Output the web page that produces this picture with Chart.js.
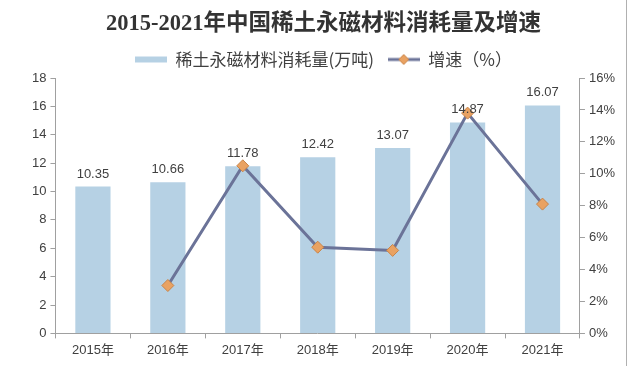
<!DOCTYPE html>
<html>
<head>
<meta charset="utf-8">
<script src="https://cdn.jsdelivr.net/npm/chart.js@4"></script>
<style>
  html, body { margin: 0; padding: 0; background: #fff; }
  #wrap { width: 628px; height: 366px; position: relative; }
</style>
</head>
<body>
<div id="wrap"><canvas id="myChart" width="628" height="366"></canvas></div>
<script>
const years = ['2015年', '2016年', '2017年', '2018年', '2019年', '2020年', '2021年'];
const consumption = [10.35, 10.66, 11.78, 12.42, 13.07, 14.87, 16.07];
const growth = [null, 3.0, 10.5, 5.4, 5.2, 13.8, 8.1];
const leftTicks = [0, 2, 4, 6, 8, 10, 12, 14, 16, 18];
const rightTicks = [0, 2, 4, 6, 8, 10, 12, 14, 16];

const barColor = '#b6d1e4';
const lineColor = '#6b7398';
const markerColor = '#e9a262';
const tickFont = { family: 'Liberation Sans, Noto Sans CJK SC', size: 13 };

// legend swatches
const barSwatch = document.createElement('canvas');
barSwatch.width = 32; barSwatch.height = 8;
let c = barSwatch.getContext('2d');
c.fillStyle = barColor; c.fillRect(0, 1, 32, 6);

const lineSwatch = document.createElement('canvas');
lineSwatch.width = 32; lineSwatch.height = 12;
c = lineSwatch.getContext('2d');
c.strokeStyle = lineColor; c.lineWidth = 3;
c.beginPath(); c.moveTo(0, 6); c.lineTo(32, 6); c.stroke();
c.fillStyle = markerColor; c.strokeStyle = '#c98448'; c.lineWidth = 1;
c.beginPath(); c.moveTo(16, 1); c.lineTo(21, 6); c.lineTo(16, 11); c.lineTo(11, 6); c.closePath();
c.fill(); c.stroke();

const barLabels = {
  id: 'barLabels',
  afterDatasetsDraw(chart) {
    const ctx = chart.ctx;
    const meta = chart.getDatasetMeta(1);
    ctx.save();
    ctx.font = '13px Liberation Sans, Arial';
    ctx.fillStyle = '#404040';
    ctx.textAlign = 'center';
    ctx.textBaseline = 'bottom';
    meta.data.forEach((bar, i) => {
      ctx.fillText(consumption[i].toFixed(2), bar.x, bar.y - 6);
    });
    ctx.restore();
  }
};

const frame = {
  id: 'frame',
  afterDraw(chart) {
    const ctx = chart.ctx;
    ctx.save();
    ctx.strokeStyle = '#b0b0b0';
    ctx.lineWidth = 1;
    ctx.beginPath(); ctx.moveTo(626.5, 0); ctx.lineTo(626.5, 366); ctx.stroke();
    ctx.restore();
  }
};

const ctx = document.getElementById('myChart').getContext('2d');
const myChart = new Chart(ctx, {
  data: {
    labels: years,
    datasets: [
      {
        type: 'line',
        label: '增速（%）',
        data: growth,
        yAxisID: 'y1',
        borderColor: lineColor,
        borderWidth: 3,
        pointStyle: 'rectRot',
        pointRadius: 6,
        pointHoverRadius: 6,
        pointBackgroundColor: markerColor,
        pointBorderColor: '#c98448',
        pointBorderWidth: 1,
        tension: 0,
        order: 0,
      },
      {
        type: 'bar',
        label: '稀土永磁材料消耗量(万吨)',
        data: consumption,
        yAxisID: 'y',
        backgroundColor: barColor,
        barPercentage: 0.47,
        categoryPercentage: 1,
        order: 1,
      },
    ],
  },
  options: {
    responsive: false,
    animation: false,
    layout: { padding: { left: 28, right: 9, top: 11, bottom: 4 } },
    plugins: {
      title: {
        display: true,
        text: '2015-2021年中国稀土永磁材料消耗量及增速',
        color: '#333333',
        font: { family: 'Liberation Serif, Noto Sans CJK SC', size: 22.5, weight: 'bold' },
        padding: { top: 0, bottom: 7 },
      },
      legend: {
        labels: {
          color: '#404040',
          font: { family: 'Noto Sans CJK SC', size: 17 },
          usePointStyle: true,
          pointStyleWidth: 32,
          boxHeight: 12,
          padding: 6,
          generateLabels(chart) {
            return [
              { text: '稀土永磁材料消耗量(万吨)  ', pointStyle: barSwatch, datasetIndex: 1, fontColor: '#404040' },
              { text: '增速（%）', pointStyle: lineSwatch, datasetIndex: 0, fontColor: '#404040' },
            ];
          },
        },
      },
      tooltip: { enabled: false },
    },
    scales: {
      x: {
        grid: { display: true, drawOnChartArea: false, offset: true, tickLength: 5, color: '#a0a0a0' },
        border: { color: '#a0a0a0' },
        ticks: { color: '#404040', font: tickFont, padding: 4 },
      },
      y: {
        position: 'left',
        min: 0, max: 18,
        afterBuildTicks(axis) { axis.ticks = leftTicks.map(v => ({ value: v })); },
        grid: { drawOnChartArea: false, tickLength: 5, color: '#a0a0a0' },
        border: { color: '#a0a0a0' },
        ticks: { color: '#404040', font: tickFont, padding: 4 },
      },
      y1: {
        position: 'right',
        min: 0, max: 16,
        afterBuildTicks(axis) { axis.ticks = rightTicks.map(v => ({ value: v })); },
        grid: { drawOnChartArea: false, tickLength: 5, color: '#a0a0a0' },
        border: { color: '#a0a0a0' },
        ticks: { color: '#404040', font: tickFont, padding: 4, callback: v => v + '%' },
      },
    },
  },
  plugins: [barLabels, frame],
});
</script>
</body>
</html>
